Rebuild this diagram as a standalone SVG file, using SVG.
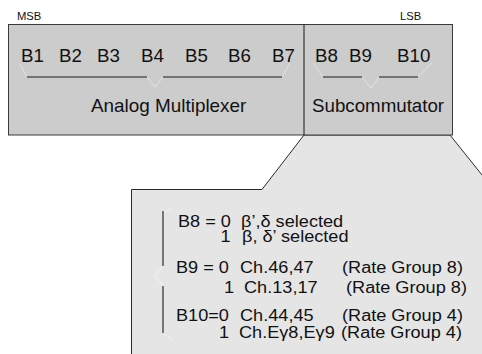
<svg xmlns="http://www.w3.org/2000/svg" width="482" height="354" viewBox="0 0 482 354">
<style>
text{font-family:"Liberation Sans",Arial,Helvetica,sans-serif;fill:#111}
.s{font-size:10.5px}
.t{font-size:18px}
.c{font-size:16.2px}
.box{fill:#cccccc;stroke:#3a3a3a;stroke-width:1}
.call{fill:#e5e5e5;stroke:#2a2a2a;stroke-width:1}
.br{fill:none;stroke:#1a1a1a;stroke-width:1}
.vb{fill:none;stroke:#777;stroke-width:2}
.fa{fill:none;stroke:#ffffff;stroke-opacity:0.45;stroke-width:1}
</style>
<g id="callout">
<path class="call" d="M131.5,360 L131.5,189.5 L262,189.5 L304,135 L450,135 L510,210 L510,360 Z"/>
</g>
<g id="register">
<rect class="box" x="8.5" y="24.5" width="444" height="110.5"/>
<line x1="304" y1="24.5" x2="304" y2="135" stroke="#1a1a1a" stroke-width="1"/>
</g>
<g id="labels">
<text class="s" transform="translate(17 20) scale(1.07 1)">MSB</text>
<text class="s" transform="translate(400 20) scale(1.07 1)">LSB</text>
</g>
<g id="bits">
<text class="t" transform="translate(21 61.5) scale(1.04 1)">B1</text>
<text class="t" transform="translate(59 61.5) scale(1.04 1)">B2</text>
<text class="t" transform="translate(97 61.5) scale(1.04 1)">B3</text>
<text class="t" transform="translate(141 61.5) scale(1.04 1)">B4</text>
<text class="t" transform="translate(185 61.5) scale(1.04 1)">B5</text>
<text class="t" transform="translate(228 61.5) scale(1.04 1)">B6</text>
<text class="t" transform="translate(272 61.5) scale(1.04 1)">B7</text>
<text class="t" transform="translate(315 61.5) scale(1.04 1)">B8</text>
<text class="t" transform="translate(349 61.5) scale(1.04 1)">B9</text>
<text class="t" transform="translate(397 61.5) scale(1.04 1)">B10</text>
</g>
<g id="analog-multiplexer">
<text class="t" transform="translate(91 111.5) scale(1.05 1)">Analog Multiplexer</text>
</g>
<g id="subcommutator">
<text class="t" transform="translate(312 111.5) scale(1.04 1)">Subcommutator</text>
</g>
<g id="connectors">
<path class="fa" d="M20,64 L27,77 M147,77 L155,87 L163,77 M282,77 L290,63"/>
<path class="br" d="M27,77 H147 M163,77 H282"/>
<path class="fa" d="M313,63 L323,77 M362,77 L371,88 L379,77 M418,77 L432,63"/>
<path class="br" d="M323,77 H362 M379,77 H418"/>
<path class="fa" d="M163,213 L172,209 M163,266 L155,275 L163,286 M163,333 L173,340"/>
<path class="vb" d="M163,211 V266 M163,286 V333"/>
</g>
<g id="bit-table">
<text class="c" transform="translate(178 226.5) scale(1.12 1)">B8 = 0</text>
<text class="c" transform="translate(241 226.5) scale(1.12 1)">β’,δ selected</text>
<text class="c" transform="translate(220.5 242) scale(1.12 1)">1</text>
<text class="c" transform="translate(242 242) scale(1.12 1)">β, δ’ selected</text>
<text class="c" transform="translate(176 272.5) scale(1.12 1)">B9 = 0</text>
<text class="c" transform="translate(240 272.5) scale(1.12 1)">Ch.46,47</text>
<text class="c" transform="translate(342 272.5) scale(1.12 1)">(Rate Group 8)</text>
<text class="c" transform="translate(224 293) scale(1.12 1)">1</text>
<text class="c" transform="translate(244 293) scale(1.12 1)">Ch.13,17</text>
<text class="c" transform="translate(346 293) scale(1.12 1)">(Rate Group 8)</text>
<text class="c" transform="translate(176 321) scale(1.12 1)">B10=0</text>
<text class="c" transform="translate(240 321) scale(1.12 1)">Ch.44,45</text>
<text class="c" transform="translate(342 321) scale(1.12 1)">(Rate Group 4)</text>
<text class="c" transform="translate(219 337.5) scale(1.12 1)">1</text>
<text class="c" transform="translate(239 337.5) scale(1.12 1)">Ch.Eγ8,Eγ9</text>
<text class="c" transform="translate(341 337.5) scale(1.12 1)">(Rate Group 4)</text>
</g>
</svg>
